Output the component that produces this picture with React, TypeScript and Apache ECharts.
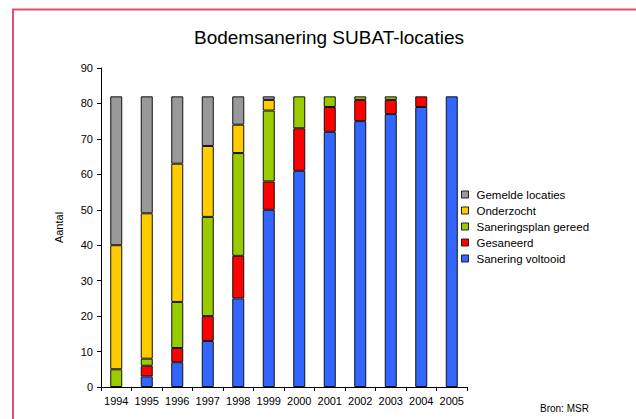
import React, { useEffect, useRef } from "react";
import * as echarts from "echarts";

const years = ["1994", "1995", "1996", "1997", "1998", "1999", "2000", "2001", "2002", "2003", "2004", "2005"];
const saneringVoltooid = [0, 3, 7, 13, 25, 50, 61, 72, 75, 77, 79, 82];
const gesaneerd = [0, 3, 4, 7, 12, 8, 12, 7, 6, 4, 3, 0];
const saneringsplanGereed = [5, 2, 13, 28, 29, 20, 9, 3, 1, 1, 0, 0];
const onderzocht = [35, 41, 39, 20, 8, 3, 0, 0, 0, 0, 0, 0];
const gemeldeLocaties = [42, 33, 19, 14, 8, 1, 0, 0, 0, 0, 0, 0];

const seriesDefs = [
  { name: "Sanering voltooid", data: saneringVoltooid, color: "#3366ff" },
  { name: "Gesaneerd", data: gesaneerd, color: "#ff0000" },
  { name: "Saneringsplan gereed", data: saneringsplanGereed, color: "#99cc00" },
  { name: "Onderzocht", data: onderzocht, color: "#ffcc00" },
  { name: "Gemelde locaties", data: gemeldeLocaties, color: "#999999" },
];
const legendOrder = ["Gemelde locaties", "Onderzocht", "Saneringsplan gereed", "Gesaneerd", "Sanering voltooid"];

const FONT = "'Liberation Sans', Arial, sans-serif";

export default function App() {
  const ref = useRef<HTMLDivElement>(null);
  useEffect(() => {
    if (!ref.current) return;
    const chart = echarts.init(ref.current, null, { renderer: "svg" });
    chart.setOption({
      animation: false,
      backgroundColor: "#ffffff",
      textStyle: { fontFamily: FONT },
      title: {
        text: "Bodemsanering SUBAT-locaties",
        left: 324,
        top: 23,
        textAlign: "center",
        textStyle: { fontFamily: FONT, fontSize: 19, fontWeight: "normal", color: "#000" },
      },
      legend: {
        orient: "vertical",
        left: 461,
        top: 188,
        padding: 0,
        itemWidth: 7,
        itemHeight: 7,
        itemGap: 3,
        icon: "rect",
        data: legendOrder,
        itemStyle: { borderColor: "#222", borderWidth: 1 },
        textStyle: { fontFamily: FONT, fontSize: 11.5, lineHeight: 13, color: "#000", padding: [0, 0, 0, 3] },
      },
      grid: { left: 101, right: 169, top: 68, bottom: 32, containLabel: false },
      xAxis: {
        type: "category",
        data: years,
        axisLine: { lineStyle: { color: "#000", width: 1 } },
        axisTick: { show: true, length: 4, interval: 0, lineStyle: { color: "#000" } },
        axisLabel: { color: "#000", fontSize: 11, fontFamily: FONT, margin: 8, interval: 0 },
      },
      yAxis: {
        type: "value",
        min: 0,
        max: 90,
        interval: 10,
        name: "Aantal",
        nameLocation: "middle",
        nameGap: 37,
        nameRotate: 90,
        nameTextStyle: { color: "#000", fontSize: 11, fontFamily: FONT },
        axisLine: { show: true, lineStyle: { color: "#000", width: 1 } },
        axisTick: { show: true, length: 4, lineStyle: { color: "#000" } },
        axisLabel: { color: "#000", fontSize: 11, fontFamily: FONT, margin: 8 },
        splitLine: { show: false },
      },
      series: seriesDefs.map((s) => ({
        name: s.name,
        type: "bar",
        stack: "total",
        barWidth: 12,
        data: s.data.map((v) => (v === 0 ? null : v)),
        itemStyle: { color: s.color, borderColor: "#111", borderWidth: 1 },
      })),
      graphic: [
        {
          type: "rect",
          shape: { x: 13, y: 9.5, width: 700, height: 500 },
          style: { fill: "none", stroke: "#e05070", lineWidth: 2 },
          silent: true,
        },
        {
          type: "text",
          left: 540,
          top: 403,
          style: { text: "Bron: MSR", fill: "#000", font: `10px ${FONT}` },
        },
      ],
    });
    return () => chart.dispose();
  }, []);
  return <div ref={ref} style={{ position: "fixed", left: 0, top: 0, width: 636, height: 419 }} />;
}
